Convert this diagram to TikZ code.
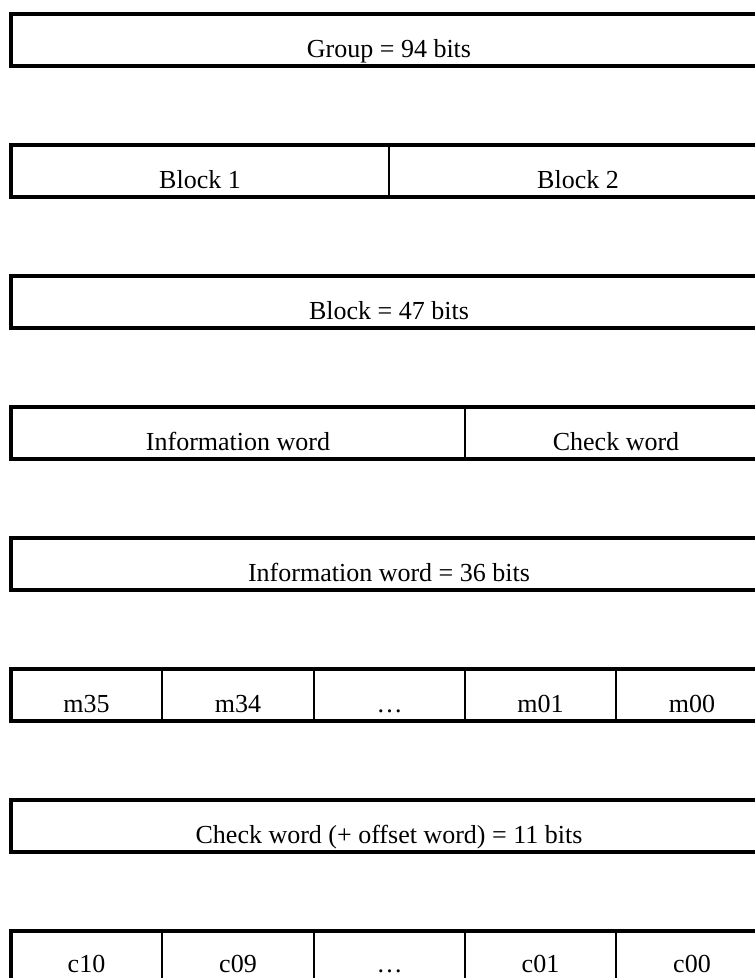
\documentclass[tikz,border=0pt]{standalone}
\usepackage{fontspec}
\setmainfont{Liberation Serif}
\begin{document}
\begin{tikzpicture}[x=1pt,y=-1pt,
  frame/.style={line width=4pt},
  sep/.style={line width=2pt},
  lbl/.style={anchor=base, inner sep=0pt, font=\fontsize{26}{31}\selectfont}]
\useasboundingbox (0,0) rectangle (755,978);
\clip (0,0) rectangle (755,978);
% frames
\foreach \i in {0,...,7}{
  \pgfmathsetmacro{\t}{14+131*\i}
  \draw[frame] (11,\t) rectangle (790,\t+52);
}
% row 1 divider
\draw[sep] (389,145) -- (389,197);
% row 3 divider
\draw[sep] (465,407) -- (465,459);
% row 5 and 7 dividers
\foreach \x in {162,314,465,616}{
  \draw[sep] (\x,669) -- (\x,721);
  \draw[sep] (\x,931) -- (\x,983);
}
% labels
\node[lbl] (g) at (389,57.5) {Group = 94 bits};
\node[lbl] (b1) at (200,188.5) {Block 1};
\node[lbl] (b2) at (578,188.5) {Block 2};
\node[lbl] (bl) at (389,319.5) {Block = 47 bits};
\node[lbl] (iw) at (238,450.5) {Information word};
\node[lbl] (cw) at (616,450.5) {Check word};
\node[lbl] (iwb) at (389,581.5) {Information word = 36 bits};
\node[lbl] (m35) at (86.5,712.5) {m35};
\node[lbl] (m34) at (238,712.5) {m34};
\node[lbl] (md) at (389.5,712.5) {…};
\node[lbl] (m01) at (540.5,712.5) {m01};
\node[lbl] (m00) at (692,712.5) {m00};
\node[lbl] (cwb) at (389,843.5) {Check word (+ offset word) = 11 bits};
\node[lbl] (c10) at (86.5,972.5) {c10};
\node[lbl] (c09) at (238,972.5) {c09};
\node[lbl] (cd) at (389.5,972.5) {…};
\node[lbl] (c01) at (540.5,972.5) {c01};
\node[lbl] (c00) at (692,972.5) {c00};
\end{tikzpicture}
\end{document}
